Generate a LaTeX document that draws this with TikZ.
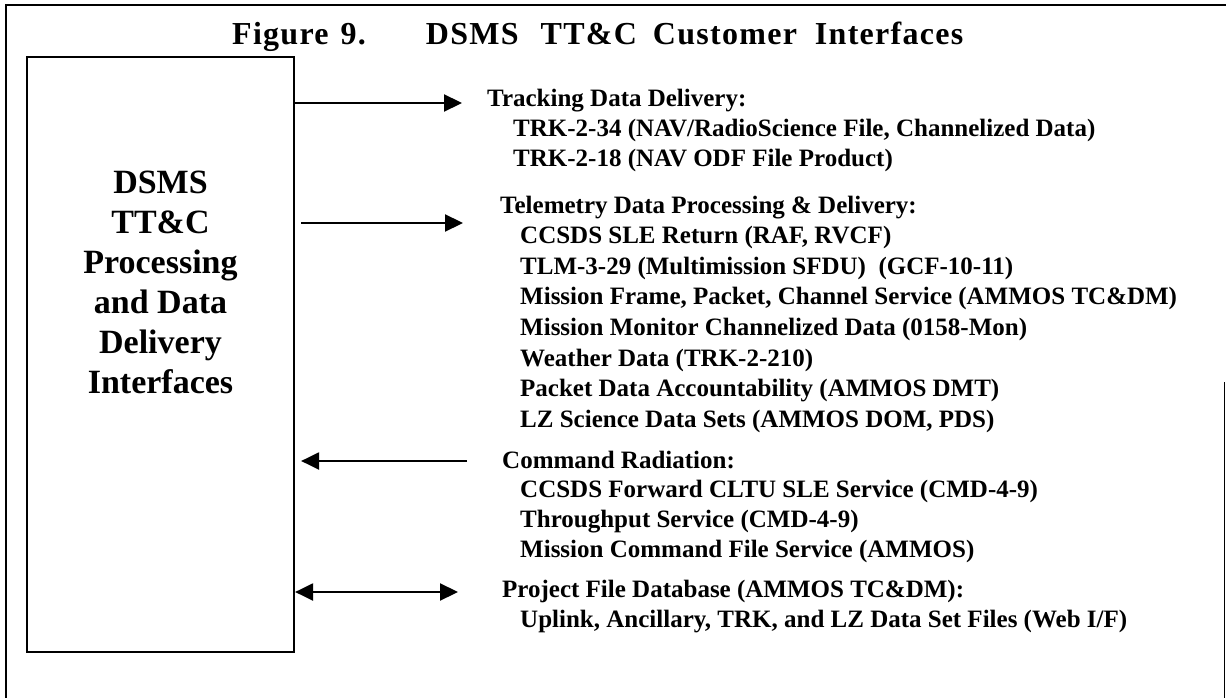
\documentclass[tikz,border=0pt]{standalone}
\usepackage{fontspec}
\setmainfont{Liberation Serif}
\newfontfamily\titlefont[LetterSpace=4]{Liberation Serif}
\usetikzlibrary{arrows.meta}

\tikzset{
    frameline/.style={line width=1.6pt},
    dsmsbox/.style={draw, line width=2.2pt, minimum width=267pt, minimum height=595pt, inner sep=0pt},
    boxlabel/.style={font=\fontsize{34}{40}\selectfont\bfseries, align=center, inner sep=0pt},
    listline/.style={font=\fontsize{25}{30}\selectfont\bfseries, anchor=base west, inner sep=0pt},
    flow/.style={line width=2.2pt, -{Triangle[length=18pt,width=17pt]}},
    twoway/.style={line width=2.2pt, {Triangle[length=18pt,width=17pt]}-{Triangle[length=18pt,width=17pt]}}
}

\begin{document}
\begin{tikzpicture}[x=1pt, y=-1pt]
            \useasboundingbox (0,0) rectangle (1226,698);
            \draw[frameline] (6,698) -- (6,5) -- (1226,5);
            \draw[line width=0.8pt] (1224,382) -- (1224,698);

            \node[font=\fontsize{32}{38}\selectfont\titlefont\bfseries, anchor=base west, inner sep=0pt] (title) at (232,45)
                {Figure\hspace{12pt}9.\hspace{60pt}DSMS\hspace{22pt}TT\&C\hspace{16pt}Customer\hspace{18pt}Interfaces};

            \node[dsmsbox] (dsms) at (160.5,354.5) {};
            \node[boxlabel] (dsmstext) at (160.5,282) {DSMS\\TT\&C\\Processing\\and Data\\Delivery\\Interfaces};

            % tracking data
            \coordinate (trkend) at (462,103);
            \draw[flow] (dsms.east |- trkend) -- (trkend);
            \node[listline] (trkhead) at (487,107) {Tracking Data Delivery:};
            \foreach \txt [count=\i] in {{TRK-2-34 (NAV/RadioScience File, Channelized Data)}, {TRK-2-18 (NAV ODF File Product)}}
                \node[listline] (trk\i) at (513, {107+30*\i}) {\txt};

            % telemetry
            \coordinate (telend) at (463,223);
            \draw[flow] ([xshift=6pt]dsms.east |- telend) -- (telend);
            \node[listline] (telhead) at (500,213) {Telemetry Data Processing \& Delivery:};
            \foreach \txt [count=\i] in {{CCSDS SLE Return (RAF, RVCF)}, {TLM-3-29 (Multimission SFDU)\ \ (GCF-10-11)},
                    {Mission Frame, Packet, Channel Service (AMMOS TC\&DM)}, {Mission Monitor Channelized Data (0158-Mon)},
                    {Weather Data (TRK-2-210)}, {Packet Data Accountability (AMMOS DMT)}, {LZ Science Data Sets (AMMOS DOM, PDS)}}
                \node[listline] (tel\i) at (520, {213+30.6*\i}) {\txt};

            % command
            \coordinate (cmdstart) at (467,461);
            \draw[flow] (cmdstart) -- ([xshift=6pt]dsms.east |- cmdstart);
            \node[listline] (cmdhead) at (502,468) {Command Radiation:};
            \foreach \txt [count=\i] in {{CCSDS Forward CLTU SLE Service (CMD-4-9)}, {Throughput Service (CMD-4-9)},
                    {Mission Command File Service (AMMOS)}}
                \node[listline] (cmd\i) at (520, {467+30.2*\i}) {\txt};

            % project file database
            \coordinate (pfdend) at (458,592);
            \draw[twoway] (dsms.east |- pfdend) -- (pfdend);
            \node[listline] (pfdhead) at (502,597) {Project File Database (AMMOS TC\&DM):};
            \node[listline] (pfd1) at (520,627) {Uplink, Ancillary, TRK, and LZ Data Set Files (Web I/F)};
\end{tikzpicture}
\end{document}
